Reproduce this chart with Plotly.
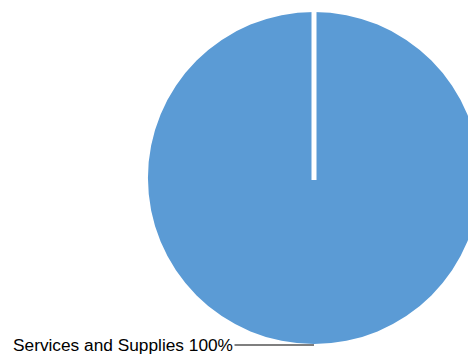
import plotly.graph_objects as go

# data
categories = ["Services and Supplies"]
values = [100]
colors = ["#5B9BD5"]

W, H = 480, 356
cx, cy, r = 314, 178, 166

fig = go.Figure()
fig.add_trace(go.Pie(
    labels=categories,
    values=values,
    marker=dict(colors=colors, line=dict(width=0)),
    textinfo="none",
    hoverinfo="label+percent",
    sort=False,
    direction="clockwise",
    rotation=0,
    showlegend=False,
    domain=dict(x=[(cx - r) / W, (cx + r) / W], y=[(H - cy - r) / H, (H - cy + r) / H]),
))

total = sum(values)
label_text = f"{categories[0]} {round(values[0] / total * 100)}%"

# white separator at the slice start (top)
fig.add_shape(type="line", xref="paper", yref="paper",
              x0=cx / W, x1=cx / W, y0=(H - cy - 2) / H, y1=(H - cy + r + 2) / H,
              line=dict(color="white", width=5), layer="above")

fig.add_annotation(
    x=cx / W, y=(H - (cy + r + 1)) / H, xref="paper", yref="paper",
    text=label_text, showarrow=True, arrowhead=0, arrowwidth=1.2, arrowcolor="black",
    ax=-(cx - 123), ay=0, standoff=0,
    font=dict(family="Liberation Sans, Arial", size=17.3, color="black"),
)

fig.update_layout(
    width=W, height=H,
    margin=dict(l=0, r=0, t=0, b=0),
    paper_bgcolor="white", plot_bgcolor="white",
)

fig.write_html("out.html", config={"displayModeBar": False},
               post_script="document.body.style.margin='0';document.body.style.overflow='hidden';")
